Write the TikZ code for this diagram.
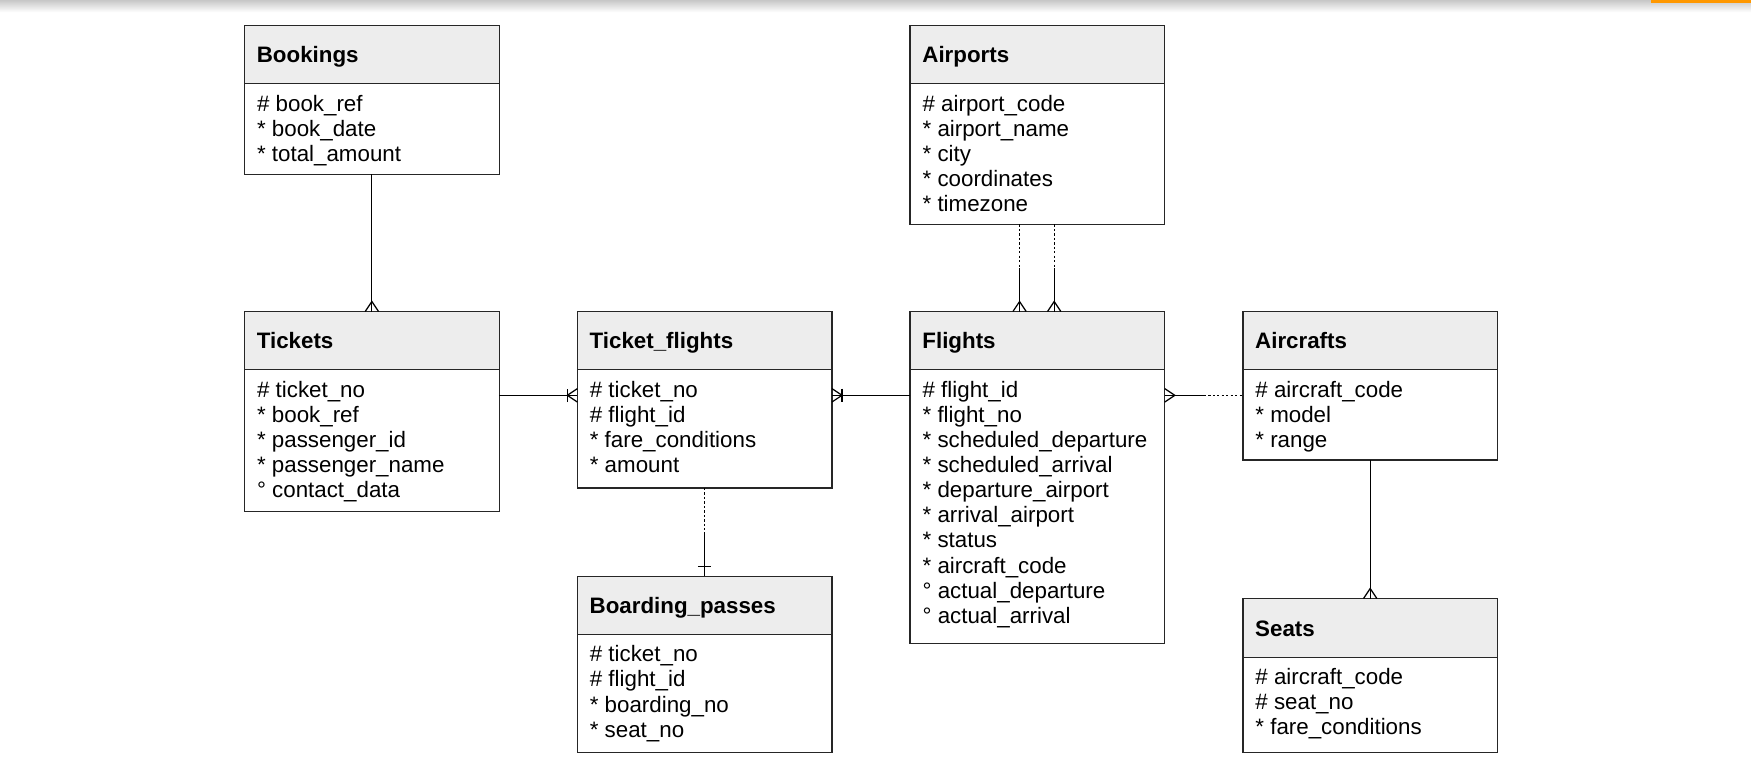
\documentclass[tikz,border=0pt]{standalone}
\usepackage{fontspec}
\setmainfont{Liberation Sans}
\usetikzlibrary{calc,positioning}
\definecolor{pagetab}{HTML}{FF9800}

\tikzset{
  header/.style={draw=black!85, fill=black!7, line width=1.2pt, outer sep=0pt,
    minimum width=228pt, minimum height=52pt, anchor=north west,
    inner xsep=11pt, text width=206pt, text height=14.5pt, text depth=0pt,
    align=left, font=\bfseries\fontsize{20}{22.5}\selectfont},
  body/.style={draw=black!85, line width=1.2pt, outer sep=0pt, inner sep=0pt,
    minimum width=228pt, anchor=north},
  fields/.style={anchor=north west, inner xsep=11pt, inner ysep=10pt,
    align=left, font=\fontsize{20}{22.5}\selectfont},
  link/.style={line width=1.1pt},
  optional/.style={link, dash pattern=on 2pt off 2pt},
  crow foot/.pic={\draw[link] (0,-6) -- (9,0) -- (0,6);},
  one bar/.pic={\draw[link] (9,-6) -- (9,6);}
}

\begin{document}
\begin{tikzpicture}[x=1pt, y=-1pt]
    \useasboundingbox (0,0) rectangle (1568,690.4);
    % page top
    \shade[top color=black!22, bottom color=white] (0,0) rectangle (1568,11);
    \fill[pagetab] (1478,0) rectangle (1568,3);

    % Entities
    \node[header] (bookings) at (219,23) {Bookings};
    \node[body, minimum height=81pt] (bookings-b) at (bookings.south) {};
    \node[fields] (bookings-f) at (bookings-b.north west)
        {\# book\_ref\\* book\_date\\* total\_amount};

    \node[header] (airports) at (815,23) {Airports};
    \node[body, minimum height=126pt] (airports-b) at (airports.south) {};
    \node[fields] (airports-f) at (airports-b.north west)
        {\# airport\_code\\* airport\_name\\* city\\* coordinates\\* timezone};

    \node[header] (tickets) at (219,279) {Tickets};
    \node[body, minimum height=127pt] (tickets-b) at (tickets.south) {};
    \node[fields] (tickets-f) at (tickets-b.north west)
        {\# ticket\_no\\* book\_ref\\* passenger\_id\\* passenger\_name\\° contact\_data};

    \node[header] (ticketflights) at (517,279) {Ticket\_flights};
    \node[body, minimum height=106pt] (ticketflights-b) at (ticketflights.south) {};
    \node[fields] (ticketflights-f) at (ticketflights-b.north west)
        {\# ticket\_no\\\# flight\_id\\* fare\_conditions\\* amount};

    \node[header] (flights) at (815,279) {Flights};
    \node[body, minimum height=245pt] (flights-b) at (flights.south) {};
    \node[fields] (flights-f) at (flights-b.north west)
        {\# flight\_id\\* flight\_no\\* scheduled\_departure\\* scheduled\_arrival\\
         * departure\_airport\\* arrival\_airport\\* status\\* aircraft\_code\\
         ° actual\_departure\\° actual\_arrival};

    \node[header] (aircrafts) at (1113,279) {Aircrafts};
    \node[body, minimum height=81pt] (aircrafts-b) at (aircrafts.south) {};
    \node[fields] (aircrafts-f) at (aircrafts-b.north west)
        {\# aircraft\_code\\* model\\* range};

    \node[header] (boarding) at (517,516) {Boarding\_passes};
    \node[body, minimum height=106pt] (boarding-b) at (boarding.south) {};
    \node[fields] (boarding-f) at (boarding-b.north west)
        {\# ticket\_no\\\# flight\_id\\* boarding\_no\\* seat\_no};

    \node[header, minimum height=53pt] (seats) at (1113,536) {Seats};
    \node[body, minimum height=85pt] (seats-b) at (seats.south) {};
    \node[fields, inner ysep=9pt] (seats-f) at (seats-b.north west)
        {\# aircraft\_code\\\# seat\_no\\* fare\_conditions};

    % Relationships
    \draw[link] (bookings-b.south) -- (tickets.north);
    \pic[rotate=90] at (tickets.north) {crow foot};

    \draw[link] ($(tickets-b.north east)+(0,23)$) -- ($(ticketflights-b.north west)+(0,23)$);
    \pic[rotate=180] at ($(ticketflights-b.north west)+(0,23)$) {crow foot};
    \pic[rotate=180] at ($(ticketflights-b.north west)+(0,23)$) {one bar};

    \draw[link] ($(flights-b.north west)+(0,23)$) -- ($(ticketflights-b.north east)+(0,23)$);
    \pic at ($(ticketflights-b.north east)+(0,23)$) {crow foot};
    \pic at ($(ticketflights-b.north east)+(0,23)$) {one bar};

    \foreach \dx in {-16,15} {
        \draw[optional] ($(airports-b.south)+(\dx,0)$) -- ($(airports-b.south)!.5!(flights.north)+(\dx,0)$);
        \draw[link] ($(airports-b.south)!.5!(flights.north)+(\dx,0)$) -- ($(flights.north)+(\dx,0)$);
        \pic[rotate=90] at ($(flights.north)+(\dx,0)$) {crow foot};
    }

    \coordinate (fa-mid) at ($(flights-b.north east)!.5!(aircrafts-b.north west)+(0,23)$);
    \draw[link] ($(flights-b.north east)+(0,23)$) -- (fa-mid);
    \draw[optional] (fa-mid) -- ($(aircrafts-b.north west)+(0,23)$);
    \pic at ($(flights-b.north east)+(0,23)$) {crow foot};

    \coordinate (tb-mid) at ($(ticketflights-b.south)!.5!(boarding.north)$);
    \draw[optional] (ticketflights-b.south) -- (tb-mid);
    \draw[link] (tb-mid) -- (boarding.north);
    \pic[rotate=90] at (boarding.north) {one bar};

    \draw[link] (aircrafts-b.south) -- (seats.north);
    \pic[rotate=90] at (seats.north) {crow foot};
\end{tikzpicture}
\end{document}
